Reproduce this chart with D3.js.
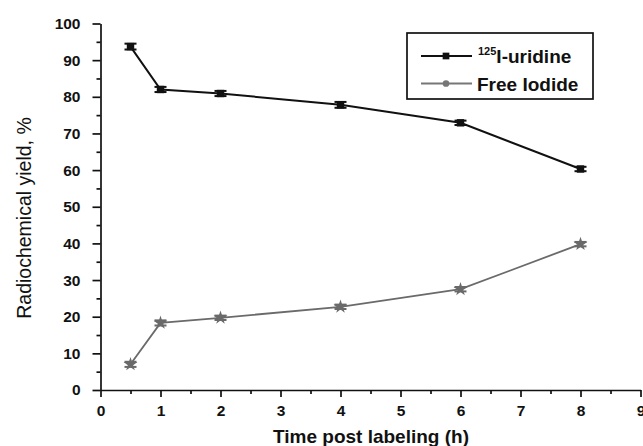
<!DOCTYPE html>
<html lang="en">
<head>
    <meta charset="UTF-8">
    <title>Radiochemical yield</title>
    <script src="https://d3js.org/d3.v7.min.js"></script>
    <style>
        body { margin: 0; background: #fff; }
        text { font-family: "Liberation Sans", Arial, sans-serif; }
    </style>
</head>
<body>
    <svg width="643" height="446"></svg>

    <script>
        // podaci
        const hours = [0.5, 1, 2, 4, 6, 8];
        const uridine = [93.7, 82.0, 80.9, 77.8, 72.9, 60.3];
        const uridineErr = [0.8, 0.7, 0.7, 0.8, 0.6, 0.6];
        const iodide = [7.0, 18.3, 19.7, 22.7, 27.5, 39.8];
        const iodideErr = [0.7, 0.7, 0.6, 0.6, 0.6, 0.6];
        const xTicks = [0, 1, 2, 3, 4, 5, 6, 7, 8, 9];
        const yTicks = [0, 10, 20, 30, 40, 50, 60, 70, 80, 90, 100];

        const svg = d3.select("svg");

        const x = d3.scaleLinear().domain([0, 9]).range([100.5, 640.5]);
        const y = d3.scaleLinear().domain([0, 100]).range([390, 23.5]);

        // osi
        svg.append("g")
            .attr("transform", "translate(0,390)")
            .call(d3.axisBottom(x).tickValues(xTicks).tickFormat(d3.format("d")).tickSize(7).tickSizeOuter(0).tickPadding(8));
        svg.append("g")
            .attr("transform", "translate(0,390)")
            .call(d3.axisBottom(x).tickValues(d3.range(0.5, 9, 1)).tickFormat("").tickSize(4).tickSizeOuter(0))
            .select(".domain").remove();

        svg.append("g")
            .attr("transform", "translate(100.5,0)")
            .call(d3.axisLeft(y).tickValues(yTicks).tickSize(8).tickSizeOuter(0).tickPadding(12));
        svg.append("g")
            .attr("transform", "translate(100.5,0)")
            .call(d3.axisLeft(y).tickValues(d3.range(5, 100, 10)).tickFormat("").tickSize(4).tickSizeOuter(0))
            .select(".domain").remove();

        svg.selectAll(".domain, .tick line").attr("stroke", "#111").attr("stroke-width", 1.7);
        svg.selectAll(".tick text")
            .attr("fill", "#111")
            .style("font-size", "15.5px")
            .style("font-weight", "bold");

        // serije
        function drawSeries(vals, errs, color, symbol, size, width) {
            const pts = hours.map((h, i) => ({ h: h, v: vals[i], e: errs[i] }));
            const line = d3.line().x(d => x(d.h)).y(d => y(d.v));
            svg.append("path")
                .datum(pts)
                .attr("d", line)
                .attr("fill", "none")
                .attr("stroke", color)
                .attr("stroke-width", width);

            const g = svg.append("g").selectAll("g").data(pts).join("g");
            g.append("line")
                .attr("x1", d => x(d.h)).attr("x2", d => x(d.h))
                .attr("y1", d => y(d.v - d.e)).attr("y2", d => y(d.v + d.e))
                .attr("stroke", color).attr("stroke-width", 1.5);
            g.append("line")
                .attr("x1", d => x(d.h) - 6).attr("x2", d => x(d.h) + 6)
                .attr("y1", d => y(d.v + d.e)).attr("y2", d => y(d.v + d.e))
                .attr("stroke", color).attr("stroke-width", 2);
            g.append("line")
                .attr("x1", d => x(d.h) - 6).attr("x2", d => x(d.h) + 6)
                .attr("y1", d => y(d.v - d.e)).attr("y2", d => y(d.v - d.e))
                .attr("stroke", color).attr("stroke-width", 2);
            g.append("path")
                .attr("transform", d => `translate(${x(d.h)},${y(d.v)})`)
                .attr("d", d3.symbol().type(symbol).size(size))
                .attr("fill", color);
        }

        drawSeries(uridine, uridineErr, "#111", d3.symbolSquare, 55, 2);
        drawSeries(iodide, iodideErr, "#6a6a6a", d3.symbolStar, 60, 1.8);

        // naslovi osi
        svg.append("text")
            .attr("transform", "translate(31,218) rotate(-90)")
            .attr("text-anchor", "middle")
            .style("font-size", "19.5px")
            .attr("fill", "#111")
            .text("Radiochemical yield, %");

        svg.append("text")
            .attr("x", 371)
            .attr("y", 443)
            .attr("text-anchor", "middle")
            .style("font-size", "19px")
            .style("font-weight", "bold")
            .attr("fill", "#111")
            .text("Time post labeling (h)");

        // legenda
        svg.append("rect")
            .attr("x", 407).attr("y", 33)
            .attr("width", 186).attr("height", 66)
            .attr("fill", "#fff")
            .attr("stroke", "#111")
            .attr("stroke-width", 1.7);

        const legend = [
            { color: "#111", symbol: d3.symbolSquare, size: 45, y: 56 },
            { color: "#777", symbol: d3.symbolCircle, size: 35, y: 83.5 }
        ];
        legend.forEach(l => {
            svg.append("line")
                .attr("x1", 421).attr("x2", 472)
                .attr("y1", l.y).attr("y2", l.y)
                .attr("stroke", l.color).attr("stroke-width", 1.8);
            svg.append("path")
                .attr("transform", `translate(446,${l.y})`)
                .attr("d", d3.symbol().type(l.symbol).size(l.size))
                .attr("fill", l.color);
        });

        const t1 = svg.append("text")
            .attr("x", 478).attr("y", 63)
            .style("font-size", "19px")
            .style("font-weight", "bold")
            .attr("fill", "#111");
        t1.append("tspan").attr("dy", -8).style("font-size", "11px").text("125");
        t1.append("tspan").attr("dy", 8).text("I-uridine");

        svg.append("text")
            .attr("x", 477).attr("y", 91)
            .style("font-size", "19px")
            .style("font-weight", "bold")
            .attr("fill", "#111")
            .text("Free Iodide");
    </script>
</body>
</html>
